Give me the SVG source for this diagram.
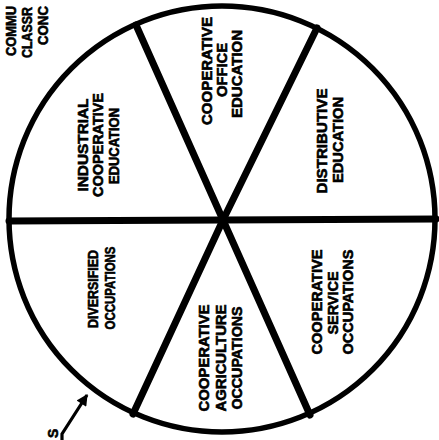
<svg xmlns="http://www.w3.org/2000/svg" width="439" height="440" viewBox="0 0 439 440">
<style>
  .t { font-family: "Liberation Sans", Arial, sans-serif; font-weight: bold; font-size: 14px; fill: #000; stroke: #000; stroke-width: 0.6; text-anchor: middle; }
  .ts { font-family: "Liberation Sans", Arial, sans-serif; font-weight: bold; font-size: 14px; fill: #000; stroke: #000; stroke-width: 0.6; text-anchor: start; }
  .rim { fill: none; stroke: #000; stroke-width: 5.5; }
  .spoke { fill: none; stroke: #000; stroke-width: 7; stroke-linecap: round; }
  .arrow { fill: none; stroke: #000; stroke-width: 3.2; }
</style>
<defs>
  <marker id="ah" viewBox="0 0 10 10" refX="9" refY="5" markerWidth="4.5" markerHeight="3.6" orient="auto" markerUnits="strokeWidth">
    <path d="M0,0 L10,5 L0,10 z" fill="#000"/>
  </marker>
</defs>
<rect width="439" height="440" fill="#fff"/>
<g id="wheel">
  <circle class="rim" cx="222" cy="219" r="213"/>
</g>
<g id="connectors">
  <line class="spoke" x1="9" y1="221" x2="436" y2="219"/>
  <line class="spoke" x1="223" y1="220" x2="136" y2="25"/>
  <line class="spoke" x1="223" y1="220" x2="317" y2="28"/>
  <line class="spoke" x1="223" y1="220" x2="133" y2="414"/>
  <line class="spoke" x1="223" y1="220" x2="310" y2="415"/>
  <polyline class="arrow" points="62,442 62,434 87,395" marker-end="url(#ah)"/>
</g>
<g id="industrial">
  <text class="t" transform="translate(87.5,145) rotate(-90)" textLength="93" lengthAdjust="spacingAndGlyphs">INDUSTRIAL</text>
  <text class="t" transform="translate(102.5,145) rotate(-90)" textLength="104" lengthAdjust="spacingAndGlyphs">COOPERATIVE</text>
  <text class="t" transform="translate(118.5,146) rotate(-90)" textLength="76" lengthAdjust="spacingAndGlyphs">EDUCATION</text>
</g>
<g id="office">
  <text class="t" transform="translate(212,71) rotate(-90)" textLength="108" lengthAdjust="spacingAndGlyphs">COOPERATIVE</text>
  <text class="t" transform="translate(227,70) rotate(-90)" textLength="54" lengthAdjust="spacingAndGlyphs">OFFICE</text>
  <text class="t" transform="translate(242,74) rotate(-90)" textLength="88" lengthAdjust="spacingAndGlyphs">EDUCATION</text>
</g>
<g id="distributive">
  <text class="t" transform="translate(327,141) rotate(-90)" textLength="105" lengthAdjust="spacingAndGlyphs">DISTRIBUTIVE</text>
  <text class="t" transform="translate(343,140) rotate(-90)" textLength="86" lengthAdjust="spacingAndGlyphs">EDUCATION</text>
</g>
<g id="diversified">
  <text class="t" transform="translate(98,289) rotate(-90)" textLength="78" lengthAdjust="spacingAndGlyphs">DIVERSIFIED</text>
  <text class="t" transform="translate(115,288) rotate(-90)" textLength="83" lengthAdjust="spacingAndGlyphs">OCCUPATIONS</text>
</g>
<g id="agriculture">
  <text class="t" transform="translate(209,358) rotate(-90)" textLength="107" lengthAdjust="spacingAndGlyphs">COOPERATIVE</text>
  <text class="t" transform="translate(226,358) rotate(-90)" textLength="107" lengthAdjust="spacingAndGlyphs">AGRICULTURE</text>
  <text class="t" transform="translate(242,358) rotate(-90)" textLength="103" lengthAdjust="spacingAndGlyphs">OCCUPATIONS</text>
</g>
<g id="service">
  <text class="t" transform="translate(322,302) rotate(-90)" textLength="105" lengthAdjust="spacingAndGlyphs">COOPERATIVE</text>
  <text class="t" transform="translate(338,303) rotate(-90)" textLength="63" lengthAdjust="spacingAndGlyphs">SERVICE</text>
  <text class="t" transform="translate(353,302) rotate(-90)" textLength="105" lengthAdjust="spacingAndGlyphs">OCCUPATIONS</text>
</g>
<g id="corner-label">
  <text class="ts" transform="translate(16,56) rotate(-90)" textLength="50" lengthAdjust="spacingAndGlyphs">COMMU</text>
  <text class="ts" transform="translate(32,58) rotate(-90)" textLength="51" lengthAdjust="spacingAndGlyphs">CLASSR</text>
  <text class="ts" transform="translate(47.5,45) rotate(-90)" textLength="39" lengthAdjust="spacingAndGlyphs">CONC</text>
</g>
<g id="bottom-label">
  <text class="ts" transform="translate(58,438) rotate(-90)">S</text>
</g>
</svg>
